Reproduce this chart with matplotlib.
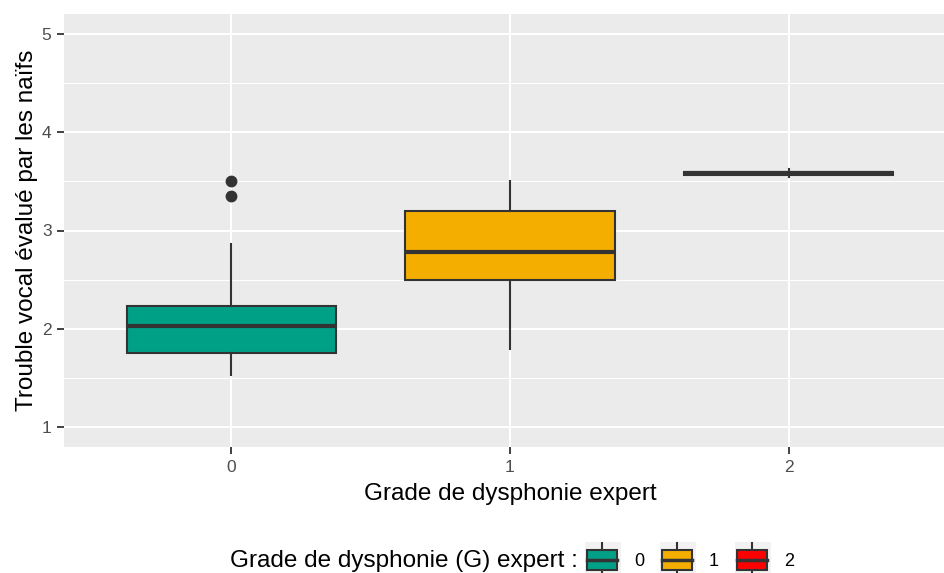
import matplotlib.pyplot as plt
from matplotlib.patches import Rectangle
from matplotlib.lines import Line2D

plt.rcParams["font.family"] = ["Liberation Sans", "DejaVu Sans"]

# --- Data ---
GRADES = ["0", "1", "2"]
COLORS = ["#00A087", "#F3AE00", "#FF0000"]
Q1 = [1.76, 2.50, 3.565]
MEDIAN = [2.03, 2.78, 3.58]
Q3 = [2.235, 3.20, 3.595]
WHISK_LO = [1.53, 1.80, 3.54]
WHISK_HI = [2.86, 3.50, 3.63]
FLIERS = [[3.35, 3.50], [], []]

EDGE = "#333333"
PANEL = "#EBEBEB"

W, H = 945, 573
fig = plt.figure(figsize=(W / 100, H / 100), dpi=100)
# panel runs past the right edge of the image, as in the reference
ax = fig.add_axes([64 / W, 1 - 447 / H, (956 - 64) / W, (447 - 14) / H])
ax.set_facecolor(PANEL)
for s in ax.spines.values():
    s.set_visible(False)

stats = []
for i in range(len(GRADES)):
    stats.append(dict(med=MEDIAN[i], q1=Q1[i], q3=Q3[i],
                      whislo=WHISK_LO[i], whishi=WHISK_HI[i], fliers=FLIERS[i]))

bp = ax.bxp(stats, positions=range(len(GRADES)), widths=0.75, patch_artist=True,
            showcaps=False, zorder=3,
            boxprops=dict(edgecolor=EDGE, linewidth=1.5),
            medianprops=dict(color=EDGE, linewidth=3.0, solid_capstyle="butt"),
            whiskerprops=dict(color=EDGE, linewidth=1.5),
            flierprops=dict(marker="o", markerfacecolor=EDGE, markeredgecolor=EDGE,
                            markersize=7.5))
for patch, c in zip(bp["boxes"], COLORS):
    patch.set_facecolor(c)

ax.set_xlim(-0.6, 2.6)
ax.set_ylim(0.8, 5.2)
ax.set_xticks(range(len(GRADES)))
ax.set_xticklabels(GRADES)
ax.set_yticks([1, 2, 3, 4, 5])
ax.set_yticks([1.5, 2.5, 3.5, 4.5], minor=True)
ax.set_xticks([], minor=True)
ax.grid(True, which="major", color="white", linewidth=1.5, zorder=0)
ax.grid(True, which="minor", axis="y", color="white", linewidth=0.75, zorder=0)
ax.set_axisbelow(True)
ax.tick_params(which="major", length=5, width=1.3, color=EDGE,
               labelsize=12.5, labelcolor="#4D4D4D", pad=4)
ax.tick_params(which="minor", length=0)

ax.set_xlabel("Grade de dysphonie expert", fontsize=17.5, color="black", labelpad=6)
ax.set_ylabel("Trouble vocal évalué par les naïfs", fontsize=17.5, color="black", labelpad=3)

# --- Legend at bottom (ggplot style keys) ---
def px(x, y):
    return x / W, 1 - y / H

fig.text(*px(578, 561), "Grade de dysphonie (G) expert :", fontsize=17.5,
         ha="right", va="center")
key_left = [585, 660, 735]
for xl, c, lab in zip(key_left, COLORS, GRADES):
    x0, y0 = px(xl, 578)
    fig.add_artist(Rectangle((x0, y0), 36 / W, 36 / H, transform=fig.transFigure,
                             facecolor="#F2F2F2", edgecolor="none", zorder=1))
    cx = xl + 17
    fig.add_artist(Line2D([cx / W, cx / W], [1 - 543 / H, 1 - 578 / H],
                          transform=fig.transFigure, color=EDGE, linewidth=1.5, zorder=2))
    bx0, by0 = px(xl + 2, 570)
    fig.add_artist(Rectangle((bx0, by0), 30 / W, 20 / H, transform=fig.transFigure,
                             facecolor=c, edgecolor=EDGE, linewidth=1.5, zorder=3))
    fig.add_artist(Line2D([(xl + 2) / W, (xl + 32) / W], [1 - 560 / H, 1 - 560 / H],
                          transform=fig.transFigure, color=EDGE, linewidth=2.5, zorder=4))
    fig.text(*px(xl + 54, 561), lab, fontsize=13, ha="center", va="center")

fig.savefig("out.png", dpi=100)
